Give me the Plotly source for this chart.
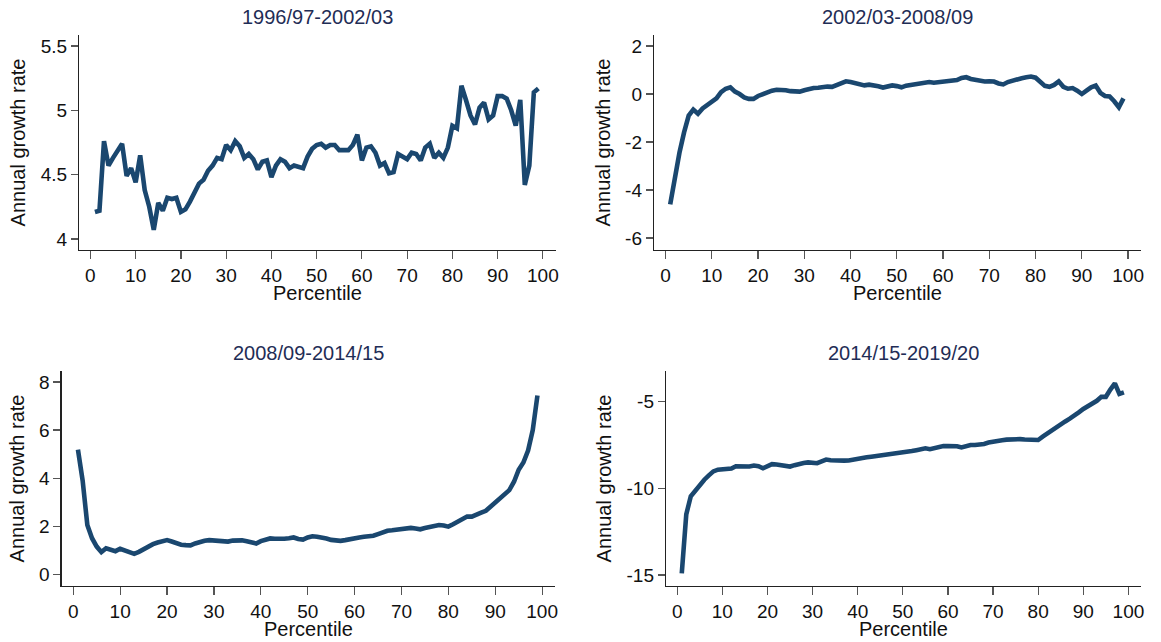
import plotly.graph_objects as go

percentile = list(range(1, 100))

growth_9697_0203 = [
    4.21, 4.22, 4.76, 4.57, 4.63, 4.68, 4.74, 4.49, 4.55, 4.44,
    4.65, 4.38, 4.25, 4.07, 4.28, 4.22, 4.32, 4.31, 4.32, 4.21,
    4.23, 4.29, 4.36, 4.43, 4.46, 4.53, 4.57, 4.63, 4.62, 4.73,
    4.69, 4.76, 4.72, 4.63, 4.66, 4.62, 4.54, 4.60, 4.61, 4.48,
    4.57, 4.62, 4.60, 4.55, 4.57, 4.56, 4.55, 4.64, 4.70, 4.73,
    4.74, 4.71, 4.73, 4.73, 4.69, 4.69, 4.69, 4.73, 4.81, 4.61,
    4.71, 4.72, 4.67, 4.57, 4.59, 4.51, 4.52, 4.66, 4.64, 4.62,
    4.67, 4.66, 4.61, 4.71, 4.74, 4.63, 4.67, 4.63, 4.71, 4.88,
    4.86, 5.19, 5.08, 4.96, 4.89, 5.02, 5.06, 4.93, 4.96, 5.11,
    5.11, 5.09, 5.00, 4.88, 5.08, 4.42, 4.57, 5.14, 5.17,
]

growth_0203_0809 = [
    -4.60, -3.40, -2.45, -1.60, -0.90, -0.65, -0.82, -0.60, -0.46, -0.32,
    -0.18, 0.08, 0.22, 0.28, 0.10, 0.00, -0.14, -0.20, -0.20, -0.08,
    0.00, 0.08, 0.14, 0.18, 0.18, 0.16, 0.12, 0.10, 0.10, 0.16,
    0.22, 0.25, 0.26, 0.30, 0.31, 0.30, 0.38, 0.45, 0.53, 0.50,
    0.44, 0.37, 0.36, 0.39, 0.37, 0.32, 0.27, 0.30, 0.36, 0.33,
    0.28, 0.35, 0.38, 0.40, 0.42, 0.48, 0.50, 0.47, 0.49, 0.53,
    0.54, 0.53, 0.58, 0.67, 0.70, 0.63, 0.58, 0.55, 0.52, 0.53,
    0.52, 0.44, 0.40, 0.50, 0.57, 0.62, 0.66, 0.70, 0.73, 0.68,
    0.50, 0.34, 0.30, 0.38, 0.53, 0.30, 0.22, 0.25, 0.14, 0.00,
    0.14, 0.28, 0.35, 0.05, -0.08, -0.10, -0.30, -0.55, -0.18,
]

growth_0809_1415 = [
    5.19, 3.90, 2.05, 1.50, 1.15, 0.92, 1.08, 1.02, 0.96, 1.06,
    1.00, 0.93, 0.85, 0.93, 1.05, 1.17, 1.25, 1.32, 1.38, 1.42,
    1.36, 1.28, 1.23, 1.21, 1.20, 1.28, 1.35, 1.39, 1.42, 1.41,
    1.38, 1.35, 1.36, 1.40, 1.42, 1.41, 1.37, 1.31, 1.28, 1.38,
    1.46, 1.49, 1.48, 1.47, 1.48, 1.50, 1.53, 1.47, 1.44, 1.53,
    1.58, 1.56, 1.54, 1.49, 1.43, 1.41, 1.39, 1.42, 1.47, 1.50,
    1.53, 1.56, 1.57, 1.60, 1.67, 1.76, 1.81, 1.83, 1.85, 1.87,
    1.90, 1.93, 1.90, 1.87, 1.92, 1.97, 2.01, 2.05, 2.03, 1.98,
    2.08, 2.18, 2.28, 2.40, 2.40, 2.46, 2.56, 2.64, 2.80, 3.00,
    3.14, 3.30, 3.50, 3.85, 4.35, 4.65, 5.15, 6.00, 7.44,
]

growth_1415_1920 = [
    -14.90, -11.50, -10.45, -10.10, -9.80, -9.50, -9.25, -9.02, -8.92, -8.90,
    -8.88, -8.85, -8.72, -8.74, -8.76, -8.74, -8.68, -8.72, -8.84, -8.70,
    -8.60, -8.62, -8.66, -8.70, -8.74, -8.66, -8.58, -8.54, -8.50, -8.53,
    -8.55, -8.44, -8.34, -8.38, -8.40, -8.40, -8.40, -8.39, -8.36, -8.33,
    -8.27, -8.21, -8.17, -8.14, -8.10, -8.05, -8.03, -8.00, -7.98, -7.95,
    -7.90, -7.85, -7.80, -7.74, -7.69, -7.74, -7.68, -7.60, -7.56, -7.56,
    -7.56, -7.57, -7.64, -7.55, -7.50, -7.50, -7.50, -7.44, -7.36, -7.30,
    -7.26, -7.22, -7.19, -7.17, -7.15, -7.16, -7.18, -7.21, -7.21, -7.21,
    -7.02, -6.83, -6.65, -6.47, -6.30, -6.14, -5.98, -5.82, -5.62, -5.42,
    -5.28, -5.15, -4.95, -4.72, -4.72, -4.30, -3.94, -4.55, -4.46,
]

panel_titles = ["1996/97-2002/03", "2002/03-2008/09", "2008/09-2014/15", "2014/15-2019/20"]
x_title = "Percentile"
y_title = "Annual growth rate"
x_ticks = list(range(0, 101, 10))
y_ticks = [
    [4, 4.5, 5, 5.5],
    [-6, -4, -2, 0, 2],
    [0, 2, 4, 6, 8],
    [-15, -10, -5],
]
y_ranges = [[3.914, 5.585], [-6.5, 2.46], [-0.49, 8.46], [-15.63, -3.23]]
series = [growth_9697_0203, growth_0203_0809, growth_0809_1415, growth_1415_1920]

W, H = 1161, 642
# plot-area boxes in pixels (left, right, top, bottom)
boxes = [
    (79.3, 557, 35, 250),
    (655.7, 1144, 35, 250),
    (61.7, 556.7, 371, 586),
    (667.7, 1144, 371, 586),
]

LINE = "#1a476f"
TITLE = "#1f2d56"
TEXT = "#111111"
FONT = "Liberation Sans, Arial, sans-serif"

fig = go.Figure()
layout = dict(
    width=W, height=H,
    margin=dict(l=0, r=0, t=0, b=0),
    paper_bgcolor="white", plot_bgcolor="white",
    showlegend=False,
    font=dict(family=FONT, size=19, color=TEXT),
    annotations=[],
)

for i in range(4):
    n = "" if i == 0 else str(i + 1)
    l, r, t, b = boxes[i]
    fig.add_trace(go.Scatter(
        x=percentile, y=series[i], mode="lines",
        line=dict(color=LINE, width=4.6),
        xaxis="x" + n, yaxis="y" + n, hoverinfo="skip",
    ))
    layout["xaxis" + n] = dict(
        domain=[l / W, r / W], anchor="y" + n,
        range=[-2.5, 102.8], tickvals=x_ticks,
        ticktext=[f"{v:g}" for v in x_ticks],
        showgrid=False, zeroline=False,
        showline=True, linecolor="#222222", linewidth=1.2,
        ticks="outside", ticklen=8, tickcolor="#555555", tickwidth=1.2,
        tickfont=dict(size=19, color=TEXT),
    )
    layout["yaxis" + n] = dict(
        domain=[1 - b / H, 1 - t / H], anchor="x" + n,
        range=y_ranges[i], tickvals=y_ticks[i],
        ticktext=[f"{v:g}" for v in y_ticks[i]],
        showgrid=False, zeroline=False,
        showline=True, linecolor="#222222", linewidth=1.2,
        ticks="outside", ticklen=7, tickcolor="#555555", tickwidth=1.2,
        tickfont=dict(size=19, color=TEXT),
        title=dict(text=y_title, standoff=9, font=dict(size=20, color=TEXT)),
    )
    # panel title
    layout["annotations"].append(dict(
        text=panel_titles[i], xref="paper", yref="paper",
        x=(l + r) / 2 / W, y=1 - (t - 18) / H,
        xanchor="center", yanchor="middle", showarrow=False,
        font=dict(size=20, color=TITLE, family=FONT),
    ))
    # x-axis title
    layout["annotations"].append(dict(
        text=x_title, xref="paper", yref="paper",
        x=(l + r) / 2 / W, y=1 - (b + 43) / H,
        xanchor="center", yanchor="middle", showarrow=False,
        font=dict(size=20, color=TEXT, family=FONT),
    ))

fig.update_layout(**layout)
fig.write_html(
    "out.html",
    config={"displayModeBar": False, "staticPlot": True},
    post_script="document.body.style.margin='0';",
)
